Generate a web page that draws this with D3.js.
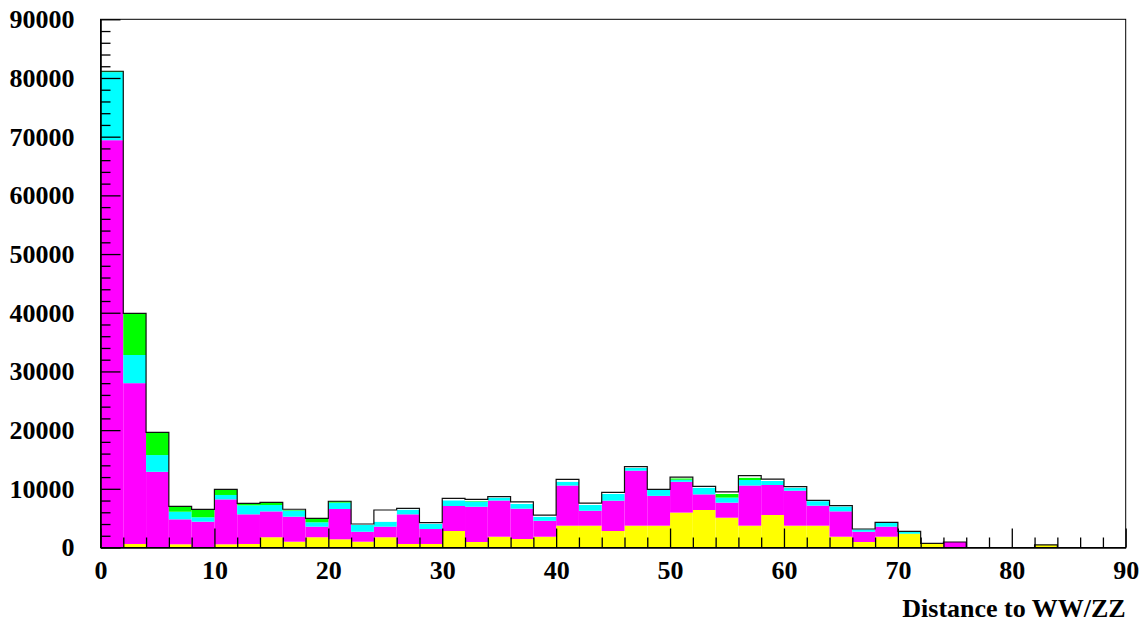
<!DOCTYPE html>
<html>
<head>
<meta charset="utf-8">
<script src="https://cdn.jsdelivr.net/npm/d3@7"></script>
<style>
  body { margin: 0; background: #fff; }
  text { font-family: "Liberation Serif", "Times New Roman", serif; font-weight: bold; }
</style>
</head>
<body>
<div id="chart"></div>
<script>
const WIDTH = 1148;
const HEIGHT = 626;
const MARGIN = { LEFT: 100.5, RIGHT: 22.3, TOP: 19.3, BOTTOM: 78.5 };

// bin lower edges (bin width 2)
const binLow = [0, 2, 4, 6, 8, 10, 12, 14, 16, 18, 20, 22, 24, 26, 28, 30, 32, 34, 36, 38,
  40, 42, 44, 46, 48, 50, 52, 54, 56, 58, 60, 62, 64, 66, 68, 70, 72, 74, 76, 78,
  80, 82, 84, 86, 88];
const binWidth = 2;

// stacked components, bottom to top
const yellowVals = [0, 600, 0, 550, 0, 550, 600, 1750, 990, 1750,
  1400, 990, 1750, 600, 600, 2810, 940, 1840, 1450, 1840,
  3720, 3720, 2810, 3720, 3720, 5950, 6390, 5080, 3720, 5540,
  3720, 3720, 1840, 940, 1840, 2350, 650, 0, 0, 0,
  0, 450, 0, 0, 0];
const magentaVals = [69400, 27400, 12900, 4250, 4400, 7650, 5050, 4400, 4260, 1800,
  5160, 1700, 1800, 5050, 2550, 4260, 6010, 6160, 5170, 2710,
  6840, 2550, 5170, 9370, 5080, 5250, 2660, 2560, 6840, 5110,
  5960, 3410, 4320, 1750, 1710, 0, 0, 940, 0, 0,
  0, 0, 0, 0, 0];
const cyanVals = [11600, 4800, 2850, 1300, 750, 750, 1540, 1090, 1050, 750,
  1080, 1160, 850, 800, 900, 970, 900, 500, 790, 700,
  660, 970, 1140, 460, 1000, 350, 1140, 860, 940, 680,
  510, 770, 840, 410, 650, 400, 0, 0, 0, 0,
  0, 0, 0, 0, 0];
const greenVals = [150, 7100, 3850, 900, 1350, 950, 340, 460, 100, 670,
  240, 0, 0, 0, 0, 0, 100, 0, 0, 0,
  0, 0, 0, 0, 0, 240, 0, 620, 400, 0,
  0, 0, 0, 0, 0, 0, 0, 0, 0, 0,
  0, 0, 0, 0, 0];
const whiteVals = [0, 0, 0, 0, 0, 0, 0, 0, 120, 0,
  0, 150, 1990, 200, 180, 340, 260, 160, 370, 250,
  400, 320, 260, 220, 120, 210, 230, 360, 360, 320,
  170, 140, 130, 50, 90, 0, 60, 0, 0, 0,
  0, 0, 0, 0, 0];

const xMajorTicks = [0, 10, 20, 30, 40, 50, 60, 70, 80, 90];
const yMajorTicks = [0, 10000, 20000, 30000, 40000, 50000, 60000, 70000, 80000, 90000];
const xTitle = "Distance to WW/ZZ";

const keys = ["yellow", "magenta", "cyan", "green", "white"];
const colors = { yellow: "#ffff00", magenta: "#ff00ff", cyan: "#00ffff", green: "#00ff00", white: "#ffffff" };

const table = binLow.map((x, i) => ({
  x: x,
  yellow: yellowVals[i],
  magenta: magentaVals[i],
  cyan: cyanVals[i],
  green: greenVals[i],
  white: whiteVals[i]
}));

const svg = d3.select("#chart")
  .append("svg")
  .attr("width", WIDTH)
  .attr("height", HEIGHT);

const x = d3.scaleLinear().domain([0, 90]).range([MARGIN.LEFT, WIDTH - MARGIN.RIGHT]);
const y = d3.scaleLinear().domain([0, 90000]).range([HEIGHT - MARGIN.BOTTOM, MARGIN.TOP]);

const series = d3.stack().keys(keys)(table);

// stacked bars
const layers = svg.append("g")
  .selectAll("g")
  .data(series)
  .join("g")
  .attr("fill", (d) => colors[d.key]);

layers.selectAll("rect")
  .data((d) => d)
  .join("rect")
  .attr("x", (d) => x(d.data.x))
  .attr("width", (d) => x(d.data.x + binWidth) - x(d.data.x))
  .attr("y", (d) => y(d[1]))
  .attr("height", (d) => y(d[0]) - y(d[1]));

// total outline as a step line
const totals = table.map((d) => ({ x: d.x, v: d3.sum(keys, (k) => d[k]) }));
const outlinePts = totals.concat([{ x: 90, v: totals[totals.length - 1].v }]);
const step = d3.line()
  .x((d) => x(d.x))
  .y((d) => y(d.v))
  .curve(d3.curveStepAfter);
svg.append("path")
  .attr("fill", "none")
  .attr("stroke", "#111")
  .attr("stroke-width", 1.2)
  .attr("d", step(outlinePts));

// frame
svg.append("rect")
  .attr("x", x(0))
  .attr("y", y(90000))
  .attr("width", x(90) - x(0))
  .attr("height", y(0) - y(90000))
  .attr("fill", "none")
  .attr("stroke", "#000")
  .attr("stroke-width", 1);

// minor ticks
const yMinor = d3.range(0, 90001, 2000).filter((v) => v % 10000 !== 0);
const xMinor = binLow.filter((v) => v % 10 !== 0);

svg.append("g")
  .attr("transform", `translate(${x(0)},0)`)
  .call(d3.axisLeft(y).tickValues(yMinor).tickSizeInner(-10).tickSizeOuter(0).tickFormat(""))
  .call((g) => g.select(".domain").remove());
svg.append("g")
  .attr("transform", `translate(0,${y(0)})`)
  .call(d3.axisBottom(x).tickValues(xMinor).tickSizeInner(-10).tickSizeOuter(0).tickFormat(""))
  .call((g) => g.select(".domain").remove());

// major axes
svg.append("g")
  .attr("transform", `translate(${x(0)},0)`)
  .call(d3.axisLeft(y).tickValues(yMajorTicks).tickSizeInner(-20).tickSizeOuter(0).tickPadding(26).tickFormat(d3.format("d")));
svg.append("g")
  .attr("transform", `translate(0,${y(0)})`)
  .call(d3.axisBottom(x).tickValues(xMajorTicks).tickSizeInner(-19).tickSizeOuter(0).tickPadding(13).tickFormat(d3.format("d")));

svg.selectAll(".tick line").attr("stroke", "#000").attr("stroke-width", 1.3);
svg.selectAll(".domain").attr("stroke", "#000").attr("stroke-width", 1.6);
svg.selectAll(".tick text")
  .attr("font-family", "Liberation Serif, Times New Roman, serif")
  .attr("font-weight", "bold")
  .attr("font-size", 26)
  .attr("fill", "#000");

// axis title
svg.append("text")
  .attr("x", x(90))
  .attr("y", 617)
  .attr("text-anchor", "end")
  .attr("font-size", 26)
  .attr("fill", "#000")
  .text(xTitle);
</script>
</body>
</html>
